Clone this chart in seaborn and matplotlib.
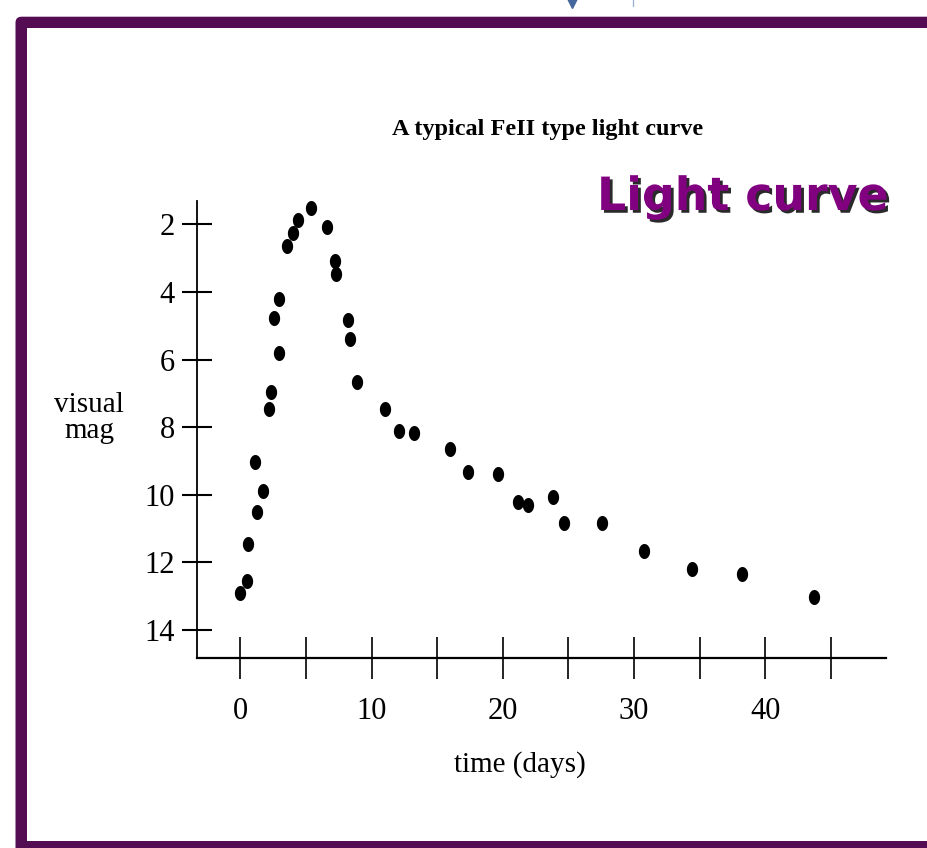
# Light curve of a typical FeII nova, redrawn from the slide
import numpy as np
import matplotlib
matplotlib.use('Agg')
import matplotlib.pyplot as plt
import matplotlib.transforms as mtransforms
import matplotlib.patheffects as pe
from matplotlib.patches import FancyBboxPatch, Rectangle
from matplotlib.lines import Line2D
from matplotlib.path import Path
import seaborn as sns

# data
days = [0.0, 0.47, 0.59, 1.23, 1.74, 1.11, 2.17, 2.32, 2.93, 2.55, 2.93, 3.54,
        4.0, 4.38, 5.37, 6.59, 7.2, 7.28, 8.19, 8.34, 8.88, 11.0, 12.07, 13.22,
        15.97, 17.32, 19.65, 21.13, 21.94, 23.8, 24.66, 27.55, 30.75, 34.44,
        38.2, 43.71]
mag = [12.92, 12.55, 11.46, 10.50, 9.88, 9.04, 7.46, 6.96, 5.81, 4.77, 4.21, 2.64,
       2.26, 1.88, 1.52, 2.08, 3.09, 3.47, 4.83, 5.39, 6.67, 7.45, 8.10, 8.16,
       8.65, 9.32, 9.39, 10.22, 10.30, 10.08, 10.83, 10.83, 11.66, 12.21,
       12.36, 13.04]
xticks = [0, 5, 10, 15, 20, 25, 30, 35, 40, 45]
xticklabels = ['0', '', '10', '', '20', '', '30', '', '40', '']
yticks = [2, 4, 6, 8, 10, 12, 14]

W, H = 928, 848
PURPLE = '#540d52'

sns.set_style("white")
plt.rcParams['font.family'] = ['Liberation Serif', 'DejaVu Serif']
plt.rcParams['text.color'] = 'black'
plt.rcParams['axes.labelcolor'] = 'black'

fig = plt.figure(figsize=(W / 100, H / 100), dpi=100)
pix = mtransforms.IdentityTransform()

# slide frame
frame = FancyBboxPatch((15.5, -20), 940, 848 - 16.7 + 20,
                       boxstyle="round,pad=0,rounding_size=6",
                       facecolor=PURPLE, edgecolor='none', transform=pix, zorder=-2)
inner = Rectangle((26.7, 848 - 841), 926.7 - 26.7, 841 - 27.7,
                  facecolor='white', edgecolor='none', transform=pix, zorder=-1)
fig.patches.extend([frame, inner])
fig.add_artist(Line2D([572], [H - 1.5], marker='v', markersize=9, color='#45689c',
                      transform=pix, linestyle='none'))
fig.add_artist(Line2D([632.7, 632.7], [H, H - 6], color='#9db3cf', lw=1, transform=pix))

# plot area
ax = fig.add_axes([197.3 / W, 1 - 658.3 / H, (886 - 197.3) / W, (658.3 - 200.7) / H])
ax.set_facecolor('none')

t = np.linspace(0, 2 * np.pi, 40)
ellipse = Path(np.column_stack([0.75 * np.cos(t), np.sin(t)]), closed=True)
sns.scatterplot(x=days, y=mag, ax=ax, color='black', marker=ellipse, s=117,
                linewidth=0, zorder=3)

ax.set_xlim(-3.29, 49.2)
ax.set_ylim(14.84, 1.30)
ax.set_xticks(xticks, xticklabels)
ax.set_yticks(yticks)

for s in ['top', 'right']:
    ax.spines[s].set_visible(False)
ax.spines['left'].set_linewidth(1.3)
ax.spines['bottom'].set_linewidth(1.6)
ax.spines['left'].set_color('black')
ax.spines['bottom'].set_color('black')

ax.tick_params(axis='x', bottom=True, direction='inout', length=30, width=1.2, pad=13,
               labelsize=22, colors='black')
ax.tick_params(axis='y', left=True, direction='inout', length=22, width=1.5, pad=5,
               labelsize=22, colors='black')

ax.set_xlabel('time (days)', fontsize=21, ha='center', va='center')
ax.xaxis.set_label_coords((520 - 197.3) / 688.7, (658.3 - 765) / 457.6)
ax.set_ylabel('visual\nmag', fontsize=21, rotation=0, ha='center', va='center',
              linespacing=1.0)
ax.yaxis.set_label_coords((89 - 197.3) / 688.7, (658.3 - 418) / 457.6)

fig.text(548 / W, 1 - 130 / H, 'A typical FeII type light curve', fontsize=17.5,
         fontweight='bold', ha='center', va='center')

fig.text(597 / W, 1 - 210 / H, 'Light curve', fontsize=33, fontweight='bold',
         family=['DejaVu Sans'], color='#800080', ha='left', va='baseline',
         path_effects=[pe.withSimplePatchShadow(offset=(2, -2),
                                                shadow_rgbFace='#2a2a2a', alpha=1.0)])

fig.savefig('out.png', dpi=100)
